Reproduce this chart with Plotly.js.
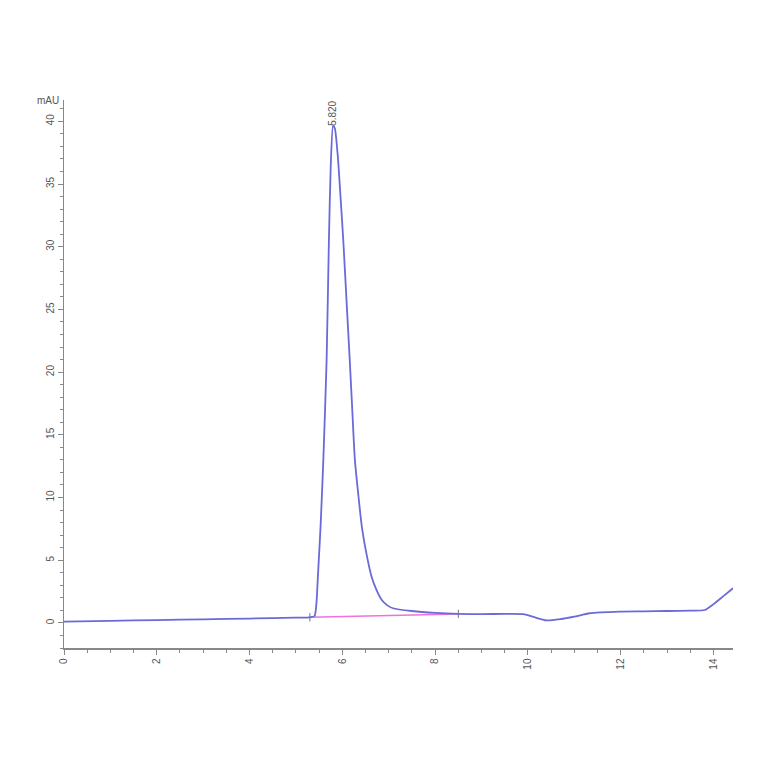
<!DOCTYPE html>
<html>
<head>
<meta charset="utf-8">
<script src="https://cdn.plot.ly/plotly-3.0.1.min.js"></script>
<style>
  html, body { margin: 0; padding: 0; background: #fff; }
  #chart { width: 764px; height: 764px; }
</style>
</head>
<body>
<div id="chart"></div>
<script>
// retention time (min) and signal (mAU)
var timeMin = [0, 1, 2, 3, 4, 5, 5.3, 5.4, 5.44, 5.47, 5.5, 5.53, 5.59, 5.66, 5.71, 5.75, 5.8,
  5.84, 5.9, 5.96, 6.02, 6.1, 6.16, 6.22, 6.27, 6.35, 6.42, 6.52, 6.63, 6.74, 6.85, 6.97, 7.09,
  7.5, 8, 8.5, 9, 9.5, 9.9, 10.1, 10.4, 10.7, 11.0, 11.33, 11.98, 12.5, 13, 13.5, 13.81,
  14.0, 14.2, 14.42];
var signal = [0.1, 0.17, 0.23, 0.29, 0.35, 0.42, 0.45, 0.55, 1.5, 3.5, 5.6, 7.66, 13, 20.9, 30.5, 36.5, 39.7,
  39.4, 37.3, 34, 30.5, 25, 20.9, 16.5, 13, 10, 7.66, 5.5, 3.68, 2.6, 1.83, 1.4, 1.17,
  0.95, 0.8, 0.72, 0.7, 0.72, 0.7, 0.5, 0.2, 0.3, 0.5, 0.77, 0.9, 0.92, 0.95, 0.98, 1.03,
  1.5, 2.1, 2.76];

// integration baseline under the main peak
var baseX = [5.3, 8.5];
var baseY = [0.45, 0.72];

var peakTime = 5.8;
var peakLabel = "5.820";

var axisFont = {family: "Liberation Sans, Arial, sans-serif", size: 10, color: "#555"};

var traces = [
  {
    x: baseX, y: baseY, mode: "lines+markers", type: "scatter",
    line: {color: "#f070e0", width: 1.5},
    marker: {symbol: "line-ns", size: 6, color: "#777", line: {width: 1, color: "#777"}},
    hoverinfo: "skip"
  },
  {
    x: timeMin, y: signal, mode: "lines", type: "scatter",
    line: {color: "#6a6ad8", width: 1.8, shape: "spline", smoothing: 0.6}
  }
];

var layout = {
  width: 764, height: 764,
  margin: {l: 64, r: 31, t: 100, b: 116},
  paper_bgcolor: "#fff", plot_bgcolor: "#fff",
  showlegend: false,
  xaxis: {
    range: [0, 14.42], dtick: 2, tick0: 0,
    showgrid: false, zeroline: false,
    showline: true, linecolor: "#888", linewidth: 1.5,
    ticks: "outside", ticklen: 5, tickcolor: "#888",
    tickangle: -90, tickfont: axisFont,
    minor: {dtick: 0.5, ticks: "outside", ticklen: 3, tickcolor: "#888"}
  },
  yaxis: {
    range: [-2, 41.7], dtick: 5, tick0: 0,
    showgrid: false, zeroline: false,
    showline: true, linecolor: "#888", linewidth: 1.5,
    ticks: "outside", ticklen: 5, tickcolor: "#888",
    tickangle: -90, tickfont: axisFont,
    minor: {dtick: 1, ticks: "outside", ticklen: 3, tickcolor: "#888"}
  },
  annotations: [
    {
      xref: "paper", yref: "paper", x: -0.005, y: 1.0,
      xanchor: "right", yanchor: "middle",
      text: "mAU", showarrow: false, font: axisFont
    },
    {
      x: peakTime, y: 40.6, xref: "x", yref: "y",
      text: peakLabel, textangle: -90, showarrow: false,
      font: {family: "Liberation Sans, Arial, sans-serif", size: 10, color: "#555"}
    }
  ]
};

Plotly.newPlot("chart", traces, layout, {displayModeBar: false, staticPlot: true});
</script>
</body>
</html>
